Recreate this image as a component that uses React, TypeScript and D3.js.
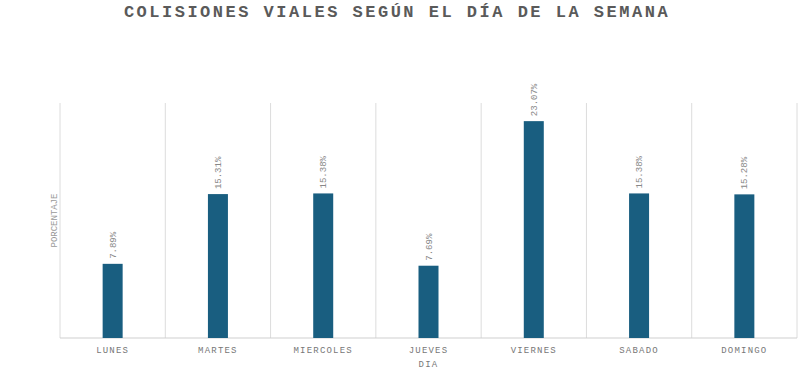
import { useRef, useEffect } from 'react'
import * as d3 from 'd3'

const dias = ['LUNES', 'MARTES', 'MIERCOLES', 'JUEVES', 'VIERNES', 'SABADO', 'DOMINGO']
const porcentajes = [7.89, 15.31, 15.38, 7.69, 23.07, 15.38, 15.28]
const etiquetas = ['7.89%', '15.31%', '15.38%', '7.69%', '23.07%', '15.38%', '15.28%']

function App() {
  const ref = useRef<SVGSVGElement>(null)

  useEffect(() => {
    const svg = d3.select(ref.current)
    svg.selectAll('*').remove()
    const margin = { top: 103, right: 3, bottom: 46, left: 60 }
    const width = 800 - margin.left - margin.right
    const height = 384 - margin.top - margin.bottom
    const font = "'Liberation Mono', 'Courier New', monospace"

    const x = d3.scaleBand().domain(dias).range([0, width]).padding(0)
    const y = d3.scaleLinear().domain([0, 25]).range([height, 0])

    svg.append('text')
      .attr('x', 397).attr('y', 17)
      .attr('text-anchor', 'middle')
      .style('font', `bold 17px ${font}`)
      .style('letter-spacing', '2.5px')
      .attr('fill', '#5a5a5a')
      .text('COLISIONES VIALES SEGÚN EL DÍA DE LA SEMANA')

    const g = svg.append('g').attr('transform', `translate(${margin.left},${margin.top})`)

    // vertical gridlines at band edges
    const edges = dias.map(d => x(d) as number).concat([width])
    g.selectAll('line.grid')
      .data(edges)
      .enter()
      .append('line')
      .attr('class', 'grid')
      .attr('x1', d => d).attr('x2', d => d)
      .attr('y1', 0).attr('y2', height)
      .attr('stroke', '#dcdcdc')
      .attr('stroke-width', 1)

    g.append('line')
      .attr('x1', 0).attr('x2', width)
      .attr('y1', height).attr('y2', height)
      .attr('stroke', '#cfcfcf')

    const barW = 20
    g.selectAll('rect')
      .data(porcentajes)
      .enter()
      .append('rect')
      .attr('x', (d, i) => (x(dias[i]) as number) + x.bandwidth() / 2 - barW / 2)
      .attr('y', d => y(d))
      .attr('width', barW)
      .attr('height', d => height - y(d))
      .attr('fill', '#195e80')

    g.selectAll('text.val')
      .data(porcentajes)
      .enter()
      .append('text')
      .attr('class', 'val')
      .attr('transform', (d, i) => `translate(${(x(dias[i]) as number) + x.bandwidth() / 2 + 3},${y(d) - 5}) rotate(-90)`)
      .style('font', `9px ${font}`)
      .attr('fill', '#888')
      .text((d, i) => etiquetas[i])

    g.selectAll('text.tick')
      .data(dias)
      .enter()
      .append('text')
      .attr('class', 'tick')
      .attr('x', d => (x(d) as number) + x.bandwidth() / 2)
      .attr('y', height + 15)
      .attr('text-anchor', 'middle')
      .style('font', `9px ${font}`)
      .style('letter-spacing', '1.2px')
      .attr('fill', '#777')
      .text(d => d)

    g.append('text')
      .attr('x', width / 2).attr('y', height + 29)
      .attr('text-anchor', 'middle')
      .style('font', `9px ${font}`)
      .style('letter-spacing', '1.2px')
      .attr('fill', '#777')
      .text('DIA')

    g.append('text')
      .attr('transform', `translate(-3,${height / 2}) rotate(-90)`)
      .attr('text-anchor', 'middle')
      .style('font', `9px ${font}`)
      .attr('fill', '#999')
      .text('PORCENTAJE')
  }, [])

  return (
    <svg ref={ref} width={800} height={384} style={{ position: 'absolute', left: 0, top: 0, background: '#fff' }} />
  )
}

export default App
